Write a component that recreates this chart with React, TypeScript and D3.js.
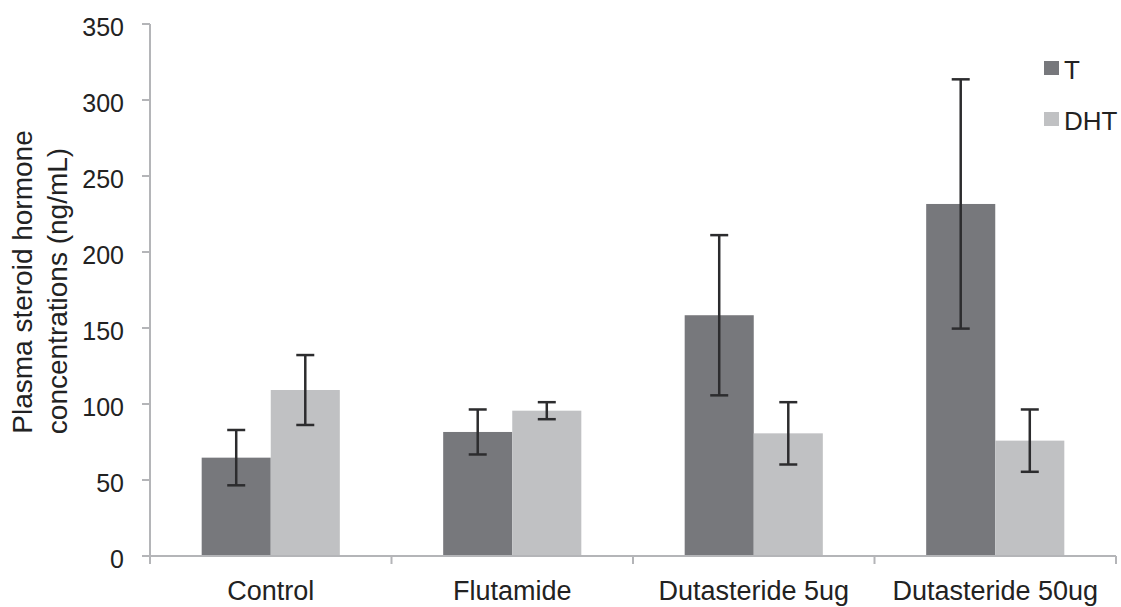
import React from "react";
import * as d3 from "d3";

// Groups, series and measured means / error half-widths (ng/mL)
const categories = ["Control", "Flutamide", "Dutasteride 5ug", "Dutasteride 50ug"];
const seriesNames = ["T", "DHT"];
const tValues = [64.7, 81.6, 158.4, 231.6];
const tErrors = [18.2, 14.8, 52.7, 82];
const dhtValues = [109.2, 95.6, 80.7, 75.9];
const dhtErrors = [23, 5.6, 20.5, 20.5];
const yTicks = [0, 50, 100, 150, 200, 250, 300, 350];

const W = 1121;
const H = 607;
const left = 150;
const right = 1116;
const top = 24;
const bottom = 556;

const seriesColors = ["#77787c", "#c0c1c3"];
const axisColor = "#b4b5b8";
const errColor = "#2c2c2e";
const textColor = "#222";
const font = "'Liberation Sans', Arial, Helvetica, sans-serif";

export default function App() {
  const x0 = d3.scaleBand<string>().domain(categories).range([left, right]).padding(0);
  const bw = x0.bandwidth();
  const groupPad = bw * 0.214;
  const x1 = d3.scaleBand<string>().domain(seriesNames).range([groupPad, bw - groupPad]).padding(0);
  const y = d3.scaleLinear().domain([0, 350]).range([bottom, top]);

  const series = [
    { name: "T", values: tValues, errors: tErrors, color: seriesColors[0] },
    { name: "DHT", values: dhtValues, errors: dhtErrors, color: seriesColors[1] },
  ];

  const capHalf = 9;
  const tickLen = 8;
  const xTickPositions = [...categories.map((c) => x0(c) as number), right];

  return (
    <svg width={W} height={H} style={{ position: "absolute", left: 0, top: 0, background: "#fff" }}>
      {/* bars */}
      {series.map((s) =>
        categories.map((c, i) => (
          <rect
            key={s.name + c}
            x={(x0(c) as number) + (x1(s.name) as number)}
            y={y(s.values[i])}
            width={x1.bandwidth()}
            height={y(0) - y(s.values[i])}
            fill={s.color}
          />
        ))
      )}

      {/* error bars */}
      {series.map((s) =>
        categories.map((c, i) => {
          const cx = (x0(c) as number) + (x1(s.name) as number) + x1.bandwidth() / 2;
          const y1 = y(s.values[i] + s.errors[i]);
          const y2 = y(s.values[i] - s.errors[i]);
          return (
            <g key={"e" + s.name + c} stroke={errColor} strokeWidth={2.5}>
              <line x1={cx} x2={cx} y1={y1} y2={y2} />
              <line x1={cx - capHalf} x2={cx + capHalf} y1={y1} y2={y1} />
              <line x1={cx - capHalf} x2={cx + capHalf} y1={y2} y2={y2} />
            </g>
          );
        })
      )}

      {/* y axis */}
      <line x1={left} x2={left} y1={y(350)} y2={bottom + tickLen} stroke={axisColor} strokeWidth={2} />
      {yTicks.map((t) => (
        <g key={"yt" + t}>
          <line x1={left - tickLen} x2={left} y1={y(t)} y2={y(t)} stroke={axisColor} strokeWidth={2} />
          <text
            x={124}
            y={y(t) + 12}
            textAnchor="end"
            fontFamily={font}
            fontSize={25}
            fill={textColor}
          >
            {t}
          </text>
        </g>
      ))}

      {/* x axis */}
      <line x1={left} x2={right} y1={bottom} y2={bottom} stroke={axisColor} strokeWidth={2} />
      {xTickPositions.map((p, i) => (
        <line key={"xt" + i} x1={p} x2={p} y1={bottom} y2={bottom + tickLen} stroke={axisColor} strokeWidth={2} />
      ))}
      {categories.map((c) => (
        <text
          key={"xl" + c}
          x={(x0(c) as number) + bw / 2}
          y={600}
          textAnchor="middle"
          fontFamily={font}
          fontSize={27}
          fill={textColor}
        >
          {c}
        </text>
      ))}

      {/* y axis title */}
      <text
        transform={`translate(32, 282) rotate(-90)`}
        textAnchor="middle"
        fontFamily={font}
        fontSize={28}
        fill={textColor}
      >
        Plasma steroid hormone
      </text>
      <text
        transform={`translate(67, 291) rotate(-90)`}
        textAnchor="middle"
        fontFamily={font}
        fontSize={28}
        fill={textColor}
      >
        concentrations (ng/mL)
      </text>

      {/* legend */}
      {series.map((s, i) => (
        <g key={"lg" + s.name} transform={`translate(1044, ${61 + i * 51})`}>
          <rect x={0} y={0} width={15} height={14} fill={s.color} />
          <text x={20} y={18} fontFamily={font} fontSize={26} fill={textColor}>
            {s.name}
          </text>
        </g>
      ))}
    </svg>
  );
}
